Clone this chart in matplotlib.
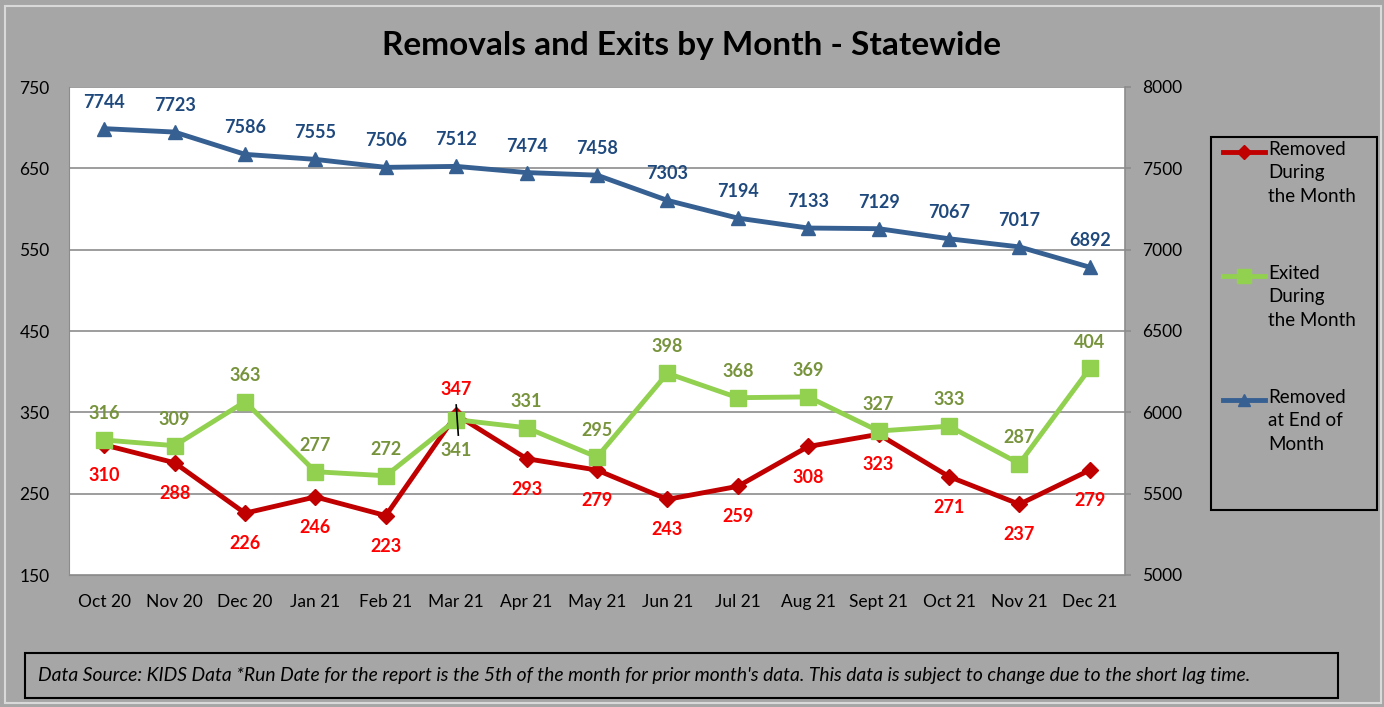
import matplotlib.pyplot as plt
from matplotlib.lines import Line2D
from matplotlib.patches import Rectangle

months = ["Oct 20", "Nov 20", "Dec 20", "Jan 21", "Feb 21", "Mar 21", "Apr 21", "May 21",
          "Jun 21", "Jul 21", "Aug 21", "Sept 21", "Oct 21", "Nov 21", "Dec 21"]
removed = [310, 288, 226, 246, 223, 347, 293, 279, 243, 259, 308, 323, 271, 237, 279]
exited = [316, 309, 363, 277, 272, 341, 331, 295, 398, 368, 369, 327, 333, 287, 404]
end_of_month = [7744, 7723, 7586, 7555, 7506, 7512, 7474, 7458, 7303, 7194, 7133, 7129, 7067, 7017, 6892]
series_names = ["Removed\nDuring\nthe Month", "Exited\nDuring\nthe Month", "Removed\nat End of\nMonth"]

# label placement: True = above the point
removed_above = [m == "Mar 21" for m in months]
exited_above = [m != "Mar 21" for m in months]

RED = "#c00000"
RED_TXT = "#ff0000"
GREEN = "#92d050"
GREEN_TXT = "#77933c"
BLUE = "#376092"
BLUE_TXT = "#1f497d"
BG = "#a6a6a6"
GRID = "#8c8c8c"

plt.rcParams["font.family"] = ["Lato", "DejaVu Sans"]

W, H = 1384, 707
fig = plt.figure(figsize=(W / 100, H / 100), dpi=100, facecolor=BG)


def fx(px):
    return px / W


def fy(py):
    return 1 - py / H


# outer chart border
fig.patches.append(Rectangle((fx(5), fy(703)), fx(1376), 697 / H, transform=fig.transFigure,
                             fill=False, edgecolor="#d9d9d9", lw=1.5))

ax = fig.add_axes([fx(69), fy(575), fx(1125 - 69), (575 - 87) / H])
ax2 = ax.twinx()
x = list(range(len(months)))

ax.set_ylim(150, 750)
ax.set_yticks(range(150, 751, 100))
ax.grid(axis="y", color=GRID, lw=1.2)
ax.set_axisbelow(True)
ax.set_xlim(-0.5, len(months) - 0.5)
ax.set_xticks(x)
ax.set_xticklabels(months, fontsize=12.5)
ax.tick_params(axis="x", length=0, pad=14)
ax.tick_params(axis="y", length=0, pad=14, labelsize=12.5)

ax2.set_ylim(5000, 8000)
ax2.set_yticks(range(5000, 8001, 500))
ax2.tick_params(axis="y", length=4, color=GRID, width=1.2, pad=8, labelsize=12.5)

for a in (ax, ax2):
    for s in a.spines.values():
        s.set_visible(False)
ax2.spines["right"].set_visible(True)
ax2.spines["right"].set_color(GRID)
ax2.spines["right"].set_linewidth(1.2)
ax.spines["left"].set_visible(True)
ax.spines["left"].set_color(GRID)
ax.spines["bottom"].set_visible(True)
ax.spines["bottom"].set_color(GRID)

ax.plot(x, removed, color=RED, lw=3.5, marker="D", ms=8, zorder=3)
ax.plot(x, exited, color=GREEN, lw=3.5, marker="s", ms=11, zorder=4)
ax2.plot(x, end_of_month, color=BLUE, lw=3.5, marker="^", ms=10, zorder=3)

lbl = dict(ha="center", va="center", fontsize=13, fontweight="bold", textcoords="offset points")
for i, v in enumerate(removed):
    off = 18 if removed_above[i] else -22
    ax.annotate(str(v), (i, v), xytext=(0, off), color=RED_TXT, **lbl)
for i, v in enumerate(exited):
    if exited_above[i]:
        ax.annotate(str(v), (i, v), xytext=(0, 19), color=GREEN_TXT, **lbl)
    else:
        ax.annotate(str(v), (i, v), xytext=(0, -22), color=GREEN_TXT, **lbl)
        # leader line of the moved label
        ax.plot([i, i + 0.03], [v + 18, v - 19], color="black", lw=1.2, zorder=6)
for i, v in enumerate(end_of_month):
    ax2.annotate(str(v), (i, v), xytext=(0, 19), color=BLUE_TXT, **lbl)

ax.patch.set_visible(False)
ax2.patch.set_visible(False)
fig.patches.append(Rectangle((fx(69), fy(575)), fx(1125 - 69), (575 - 87) / H,
                             transform=fig.transFigure, facecolor="white", edgecolor="none", zorder=-1))

fig.text(0.5, fy(45), "Removals and Exits by Month - Statewide", ha="center", va="center",
         fontsize=24, fontweight="bold")

# legend box drawn by hand, Excel style
fig.patches.append(Rectangle((fx(1211), fy(510)), fx(1377 - 1211), (510 - 137) / H,
                             transform=fig.transFigure, fill=False, edgecolor="black", lw=1.5))
styles = [(RED, "D", 7), (GREEN, "s", 10), (BLUE, "^", 9)]
for k, (name, (col, mk, ms)) in enumerate(zip(series_names, styles)):
    yy = 152 + k * 124
    fig.add_artist(Line2D([fx(1223), fx(1265)], [fy(yy), fy(yy)], color=col, lw=3.5,
                          transform=fig.transFigure))
    fig.add_artist(Line2D([fx(1244)], [fy(yy)], color=col, marker=mk, ms=ms,
                          transform=fig.transFigure))
    fig.text(fx(1268), fy(yy - 11), name, ha="left", va="top", fontsize=13.5, linespacing=1.45)

# footnote box
fig.patches.append(Rectangle((fx(25), fy(698)), fx(1338 - 25), 45 / H,
                             transform=fig.transFigure, fill=False, edgecolor="black", lw=1.5))
fig.text(fx(38), fy(676),
         "Data Source: KIDS Data *Run Date for the report is the 5th of the month for prior "
         "month's data. This data is subject to change due to the short lag time.",
         ha="left", va="center", fontsize=13.9, style="italic")

fig.savefig("out.png", dpi=100, facecolor=BG)
